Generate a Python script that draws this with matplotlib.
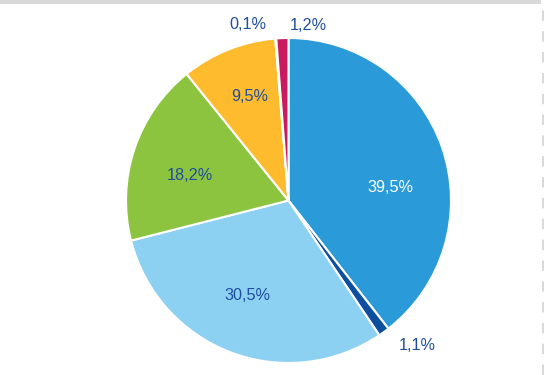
import matplotlib
matplotlib.use("Agg")
import matplotlib.pyplot as plt
from matplotlib.patches import Rectangle
from matplotlib.lines import Line2D

# slice shares in percent, clockwise from 12 o'clock
shares = [39.5, 1.1, 30.5, 18.2, 9.5, 0.1, 1.2]
labels = ["39,5%", "1,1%", "30,5%", "18,2%", "9,5%", "0,1%", "1,2%"]
colors = ["#2a9bd8", "#0d4f9f", "#8dd1f2", "#8cc43f", "#fdbb2d", "#ffffff", "#c91b5f"]
label_colors = ["white", "#1f4e9e", "#1f4e9e", "#1f4e9e", "#1f4e9e", "#1f4e9e", "#1f4e9e"]

# label positions in pie radius units (Excel "best fit" placement)
label_pos = [(0.625, 0.083), (0.791, -0.895), (-0.255, -0.585), (-0.606, 0.154),
             (-0.237, 0.640), (-0.249, 1.086), (0.120, 1.080)]

plt.rcParams['font.family'] = ['Liberation Sans', 'DejaVu Sans']

fig = plt.figure(figsize=(5.44, 3.75), dpi=100)
ax = fig.add_axes([126 / 544, 12 / 375, 325 / 544, 325 / 375])

ax.pie(shares, colors=colors, startangle=90, counterclock=False, radius=1,
       wedgeprops=dict(edgecolor="white", linewidth=1.5))
ax.set_xlim(-1, 1)
ax.set_ylim(-1, 1)

for txt, (x, y), c in zip(labels, label_pos, label_colors):
    ax.text(x, y, txt, ha="center", va="center", fontsize=11.7, color=c)

# grey strip along the top and dashed border on the right
fig.patches.append(Rectangle((0, 371 / 375), 541 / 544, 4 / 375, transform=fig.transFigure,
                             facecolor="#d9d9d9", edgecolor="none"))
fig.lines.append(Line2D([542.5 / 544, 542.5 / 544], [0, 1], transform=fig.transFigure,
                        color="#d9d9d9", linewidth=1.5, linestyle=(0, (5, 5))))

fig.savefig("out.png", dpi=100)
